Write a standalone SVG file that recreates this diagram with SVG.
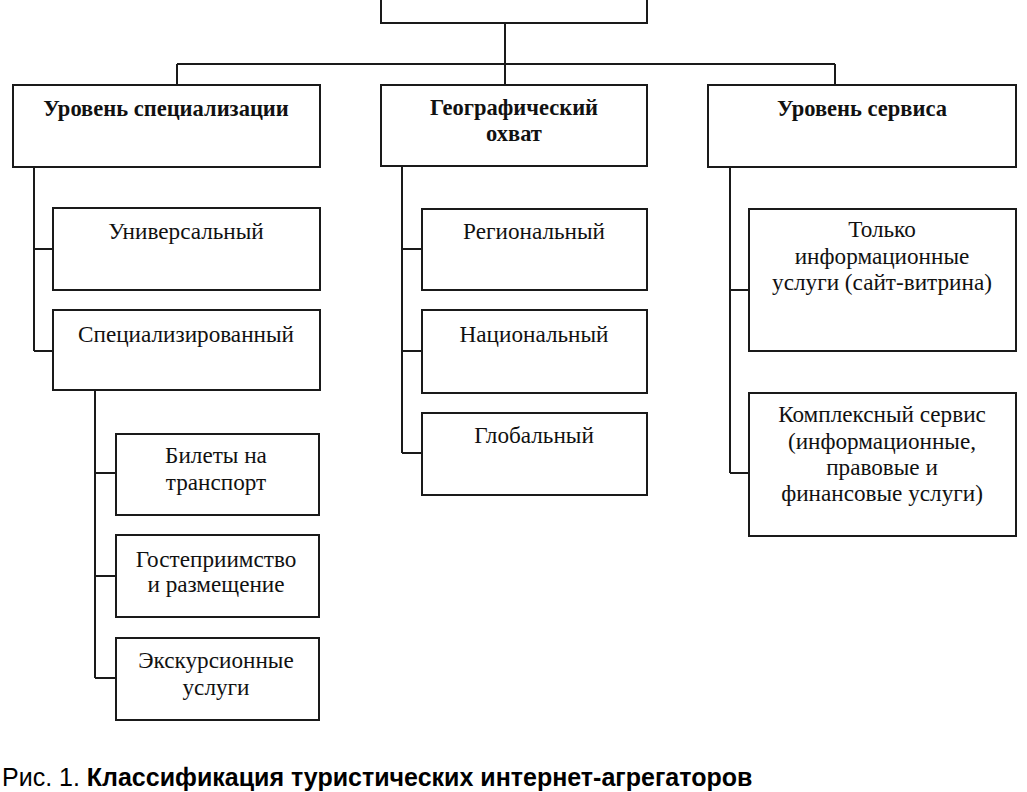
<svg xmlns="http://www.w3.org/2000/svg" width="1027" height="792" viewBox="0 0 1027 792">
<style>
.box{fill:#fff;stroke:#1a1a1a;stroke-width:2}
.ln{fill:none;stroke:#1a1a1a;stroke-width:2}
.t{font-family:'Liberation Serif','Times New Roman',serif;font-size:23.2px;fill:#111;text-anchor:middle}
.b{font-weight:bold;font-size:22.5px}
.cap{font-family:'Liberation Sans',Arial,sans-serif;font-size:25px;fill:#000}
</style>
<rect width="1027" height="792" fill="#fff"/>
<g id="connectors">
<path class="ln" d="M505 23V64M177 64H835M177 64V85M505 64V85M835 64V85"/>
<path class="ln" d="M34 167V351M34 249H53M34 351H53"/>
<path class="ln" d="M95 390V678M95 473H116M95 576H116M95 678H116"/>
<path class="ln" d="M402 166V453M402 249H422M402 351H422M402 453H422"/>
<path class="ln" d="M730 167V473M730 290H749M730 473H749"/>
</g>
<g id="root"><rect class="box" x="381" y="-20" width="266" height="43"/></g>
<g id="spec"><rect class="box" x="13" y="85" width="307" height="82"/><text class="t b" x="166" y="116">Уровень специализации</text></g>
<g id="geo"><rect class="box" x="381" y="85" width="266" height="81"/><text class="t b" x="514" y="115">Географический</text><text class="t b" x="514" y="141">охват</text></g>
<g id="serv"><rect class="box" x="708" y="85" width="308" height="82"/><text class="t b" x="862" y="116">Уровень сервиса</text></g>
<g id="univ"><rect class="box" x="53" y="208" width="267" height="82"/><text class="t" x="186" y="239">Универсальный</text></g>
<g id="specd"><rect class="box" x="53" y="310" width="267" height="80"/><text class="t" x="186" y="342">Специализированный</text></g>
<g id="tickets"><rect class="box" x="116" y="434" width="203" height="81"/><text class="t" x="216" y="463">Билеты на</text><text class="t" x="216" y="490">транспорт</text></g>
<g id="hosp"><rect class="box" x="116" y="535" width="203" height="82"/><text class="t" x="216" y="567">Гостеприимство</text><text class="t" x="216" y="592">и размещение</text></g>
<g id="exc"><rect class="box" x="116" y="638" width="203" height="82"/><text class="t" x="216" y="668">Экскурсионные</text><text class="t" x="216" y="695">услуги</text></g>
<g id="reg"><rect class="box" x="422" y="209" width="225" height="81"/><text class="t" x="534" y="239">Региональный</text></g>
<g id="nat"><rect class="box" x="422" y="310" width="225" height="83"/><text class="t" x="534" y="342">Национальный</text></g>
<g id="glob"><rect class="box" x="422" y="413" width="225" height="82"/><text class="t" x="534" y="443">Глобальный</text></g>
<g id="info"><rect class="box" x="749" y="209" width="267" height="142"/><text class="t" x="882" y="237">Только</text><text class="t" x="882" y="264">информационные</text><text class="t" x="882" y="290">услуги (сайт-витрина)</text></g>
<g id="complex"><rect class="box" x="749" y="393" width="267" height="143"/><text class="t" x="882" y="422">Комплексный сервис</text><text class="t" x="882" y="449">(информационные,</text><text class="t" x="882" y="475">правовые и</text><text class="t" x="882" y="501">финансовые услуги)</text></g>
<text class="cap" x="2" y="786">Рис. 1. <tspan font-weight="bold">Классификация туристических интернет-агрегаторов</tspan></text>
</svg>
